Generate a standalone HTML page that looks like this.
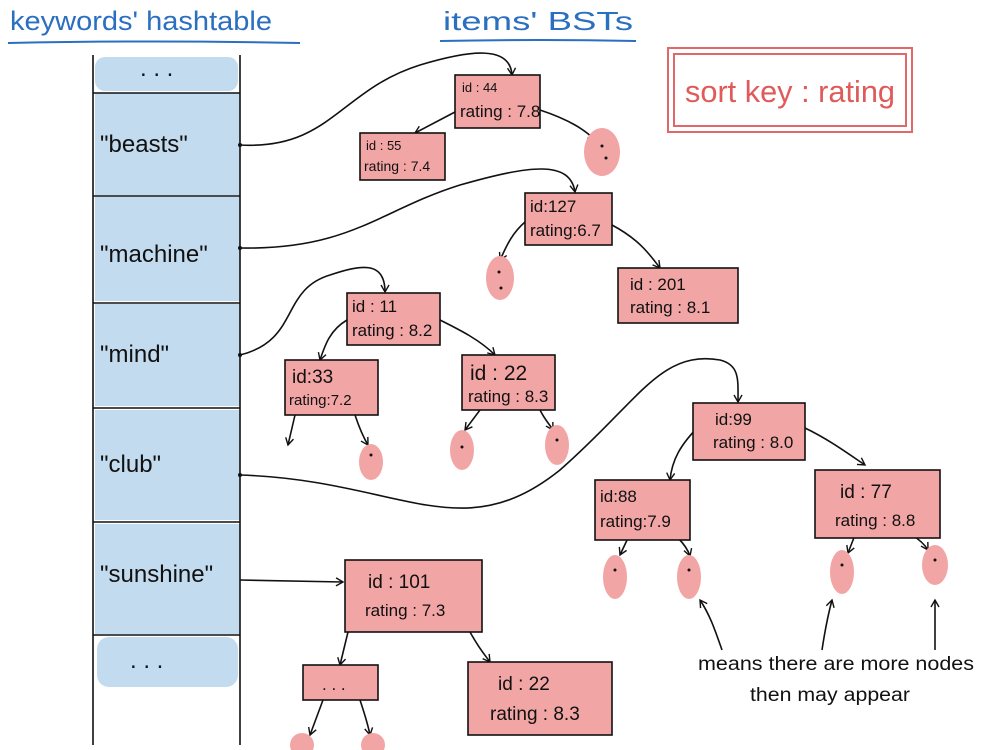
<!DOCTYPE html>
<html><head><meta charset="utf-8"><style>
body{margin:0;background:#fff;}
svg{display:block;font-family:"Liberation Sans",sans-serif;}
</style></head><body>
<svg width="1000" height="750" viewBox="0 0 1000 750" xmlns="http://www.w3.org/2000/svg">
<defs><marker id="a" markerWidth="10" markerHeight="10" refX="8" refY="5" orient="auto" markerUnits="userSpaceOnUse"><path d="M1,1 L8,5 L1,9" fill="none" stroke="#111" stroke-width="1.4"/></marker></defs>
<text x="10" y="30" font-size="27" fill="#2a6fc0" textLength="262" lengthAdjust="spacingAndGlyphs">keywords' hashtable</text>
<path d="M8,43 Q150,40 300,43" stroke="#2a6fc0" stroke-width="2" fill="none"/>
<text x="443" y="30" font-size="26" fill="#2a6fc0" textLength="190" lengthAdjust="spacingAndGlyphs">items' BSTs</text>
<path d="M440,41 Q540,39 636,41" stroke="#2a6fc0" stroke-width="2" fill="none"/>
<rect x="668" y="48" width="244" height="84" fill="none" stroke="#e06868" stroke-width="2"/>
<rect x="674" y="54" width="232" height="72" fill="none" stroke="#e06868" stroke-width="2"/>
<text x="685" y="102" font-size="31" fill="#e05a5a" textLength="210" lengthAdjust="spacingAndGlyphs">sort key : rating</text>
<g fill="#c3dbef">
<rect x="95" y="57" width="143" height="34" rx="10"/>
<rect x="95" y="93" width="145" height="102"/>
<rect x="95" y="197" width="145" height="104"/>
<rect x="95" y="304" width="145" height="102"/>
<rect x="95" y="410" width="145" height="110"/>
<rect x="95" y="524" width="145" height="110"/>
<rect x="97" y="637" width="141" height="50" rx="12"/>
</g>
<g stroke="#111" stroke-width="1.6" fill="none">
<path d="M93,55 L93,745 M240,55 L240,745"/>
<path d="M93,93 L240,93 M93,196 L240,196 M93,303 L240,303 M93,408 L240,408 M93,522 L240,522 M93,635 L240,635"/>
</g>
<g font-size="24" fill="#111">
<text x="140" y="76">. . .</text>
<text x="100" y="152">"beasts"</text>
<text x="100" y="262">"machine"</text>
<text x="100" y="362">"mind"</text>
<text x="100" y="472">"club"</text>
<text x="100" y="582">"sunshine"</text>
<text x="130" y="668">. . .</text>
</g>
<g stroke="#111" stroke-width="1.6" fill="none" marker-end="url(#a)">
<path d="M240,145 C330,150 340,90 420,65 C470,50 510,45 512,75"/>
<path d="M240,248 C350,250 380,210 460,185 C530,165 570,160 575,192"/>
<path d="M240,355 C300,340 280,290 330,275 C360,265 385,260 385,292"/>
<path d="M240,475 C400,480 460,550 560,470 C640,400 660,350 720,360 C740,365 738,380 738,402"/>
<path d="M240,580 L343,582"/>
<path d="M455,112 L415,133"/>
<path d="M540,110 C570,120 585,130 595,140"/>
<path d="M525,222 C510,235 505,250 500,260"/>
<path d="M612,225 C640,240 650,255 660,268"/>
<path d="M347,320 C330,330 325,345 320,360"/>
<path d="M440,320 C460,330 480,340 495,355"/>
<path d="M295,415 L288,445"/>
<path d="M355,415 C360,430 365,440 368,445"/>
<path d="M480,410 L465,430"/>
<path d="M540,410 C545,420 550,425 553,430"/>
<path d="M700,425 C680,445 672,460 670,480"/>
<path d="M805,428 C830,440 850,455 865,465"/>
<path d="M628,538 L620,555"/>
<path d="M678,538 C685,545 688,550 690,556"/>
<path d="M855,535 L848,553"/>
<path d="M912,535 C920,540 925,545 928,550"/>
<path d="M348,632 L340,665"/>
<path d="M470,632 C480,650 485,655 490,662"/>
<path d="M323,700 L310,735"/>
<path d="M360,700 C365,715 368,725 370,735"/>
<path d="M722,650 C715,630 710,615 700,600"/>
<path d="M822,650 C825,630 828,615 832,600"/>
<path d="M935,650 L935,600"/>
</g>
<g fill="#f2a5a5">
<ellipse cx="602" cy="152" rx="18" ry="24"/>
<ellipse cx="500" cy="278" rx="14" ry="22"/>
<ellipse cx="462" cy="450" rx="12" ry="20"/>
<ellipse cx="557" cy="445" rx="12" ry="20"/>
<ellipse cx="371" cy="462" rx="12" ry="18"/>
<ellipse cx="615" cy="577" rx="12" ry="22"/>
<ellipse cx="689" cy="577" rx="12" ry="22"/>
<ellipse cx="842" cy="572" rx="12" ry="22"/>
<ellipse cx="935" cy="565" rx="13" ry="20"/>
<ellipse cx="302" cy="745" rx="12" ry="12"/>
<ellipse cx="373" cy="745" rx="12" ry="12"/>
</g>
<g fill="#111"><circle cx="602" cy="146" r="1.5"/><circle cx="606" cy="158" r="1.5"/><circle cx="499" cy="272" r="1.5"/><circle cx="501" cy="288" r="1.5"/><circle cx="462" cy="447" r="1.5"/><circle cx="557" cy="440" r="1.5"/><circle cx="371" cy="455" r="1.5"/><circle cx="615" cy="570" r="1.5"/><circle cx="689" cy="570" r="1.5"/><circle cx="842" cy="565" r="1.5"/><circle cx="935" cy="560" r="1.5"/><circle cx="240" cy="145" r="2"/><circle cx="240" cy="248" r="2"/><circle cx="240" cy="355" r="2"/><circle cx="240" cy="475" r="2"/></g>
<g fill="#f2a5a5" stroke="#111" stroke-width="1.6">
<rect x="455" y="75" width="85" height="53"/>
<rect x="360" y="133" width="85" height="47"/>
<rect x="525" y="193" width="87" height="52"/>
<rect x="618" y="268" width="120" height="55"/>
<rect x="347" y="293" width="93" height="52"/>
<rect x="285" y="360" width="93" height="55"/>
<rect x="462" y="355" width="93" height="55"/>
<rect x="693" y="403" width="112" height="57"/>
<rect x="595" y="480" width="95" height="60"/>
<rect x="815" y="470" width="125" height="68"/>
<rect x="345" y="560" width="137" height="72"/>
<rect x="303" y="665" width="75" height="35"/>
<rect x="468" y="662" width="144" height="73"/>
</g>
<g font-size="17" fill="#111">
<text x="462" y="92" font-size="13">id : 44</text><text x="460" y="117">rating : 7.8</text>
<text x="366" y="150" font-size="13">id : 55</text><text x="364" y="171" font-size="14">rating : 7.4</text>
<text x="530" y="212">id:127</text><text x="530" y="236">rating:6.7</text>
<text x="630" y="290">id : 201</text><text x="630" y="313">rating : 8.1</text>
<text x="352" y="312">id : 11</text><text x="352" y="336">rating : 8.2</text>
<text x="292" y="383" font-size="19">id:33</text><text x="289" y="405" font-size="15">rating:7.2</text>
<text x="470" y="380" font-size="21">id : 22</text><text x="468" y="402">rating : 8.3</text>
<text x="715" y="425">id:99</text><text x="713" y="448">rating : 8.0</text>
<text x="600" y="502">id:88</text><text x="600" y="527">rating:7.9</text>
<text x="840" y="498" font-size="19">id : 77</text><text x="835" y="526">rating : 8.8</text>
<text x="368" y="588" font-size="19">id : 101</text><text x="365" y="616">rating : 7.3</text>
<text x="322" y="690">. . .</text>
<text x="498" y="690" font-size="19">id : 22</text><text x="490" y="720" font-size="19">rating : 8.3</text>
</g>
<g font-size="19" fill="#111">
<text x="698" y="670" textLength="276" lengthAdjust="spacingAndGlyphs">means there are more nodes</text>
<text x="750" y="701" textLength="160" lengthAdjust="spacingAndGlyphs">then may appear</text>
</g>
</svg>
</body></html>
